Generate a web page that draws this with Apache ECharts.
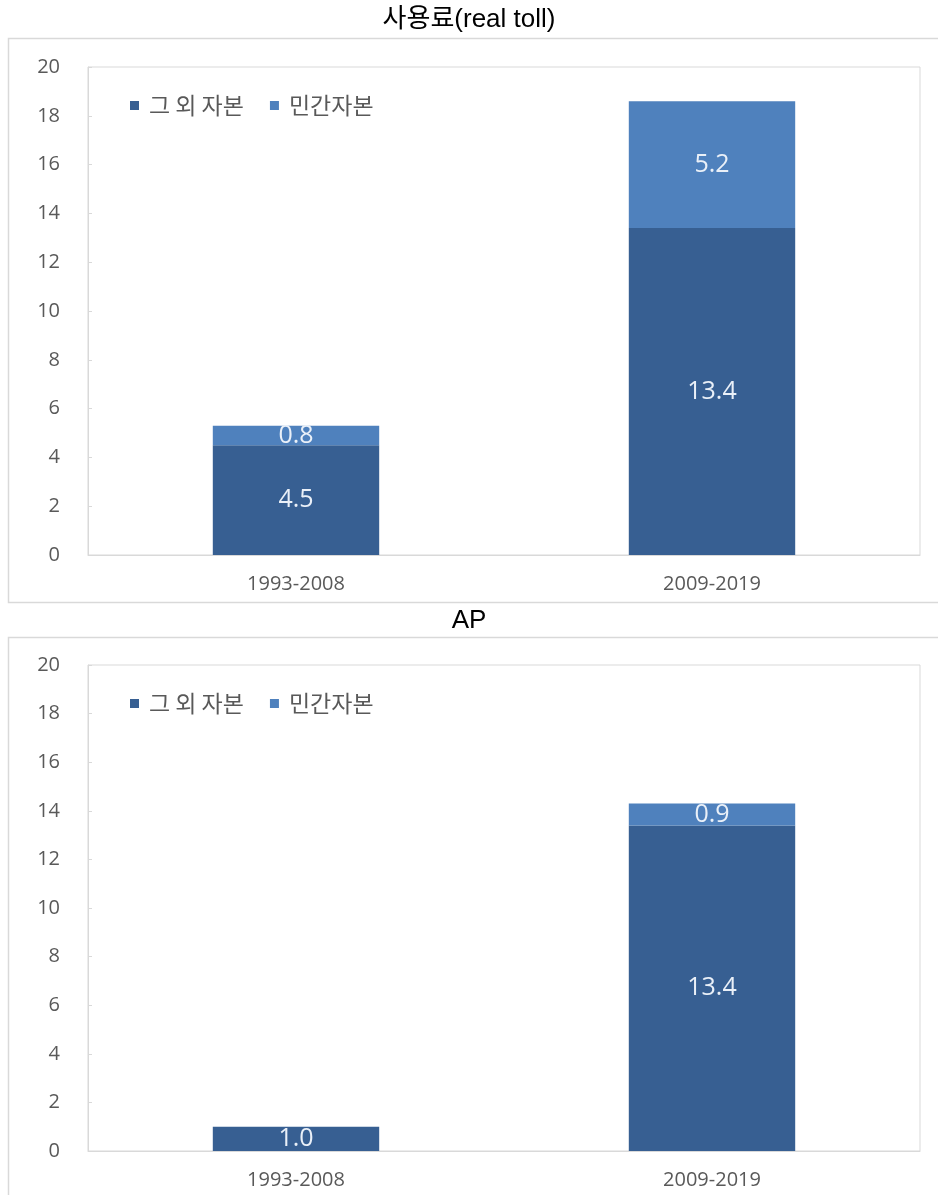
<!DOCTYPE html>
<html>
<head>
<meta charset="utf-8">
<script src="https://cdn.jsdelivr.net/npm/echarts@6/dist/echarts.min.js"></script>
<style>
  html, body { margin: 0; padding: 0; background: #fff; }
  #chart { width: 938px; height: 1195px; }
</style>
</head>
<body>
<div id="chart"></div>
<script>
(function () {
  const categories = ["1993-2008", "2009-2019"];
  const seriesNames = ["그 외 자본", "민간자본"];
  const tollOther = [4.5, 13.4];
  const tollPrivate = [0.8, 5.2];
  const apOther = [1.0, 13.4];
  const apPrivate = [0, 0.9];

  const dark = "#375f92";
  const light = "#4f81bd";
  const grayText = "#595959";
  const lineColor = "#d9d9d9";
  const cjk = "'Noto Sans CJK KR', 'Noto Sans', sans-serif";
  const num = "'Open Sans', 'Noto Sans', sans-serif";

  const myChart = echarts.init(document.getElementById("chart"));

  // 두 개의 플롯 영역 (위: 사용료, 아래: AP)
  const grids = [
    { left: 88, top: 67, width: 832, height: 488 },
    { left: 88, top: 665, width: 832, height: 486 }
  ];

  function xAxis(i) {
    return {
      type: "category",
      gridIndex: i,
      data: categories,
      axisLine: { lineStyle: { color: lineColor } },
      axisTick: { show: false },
      axisLabel: { color: grayText, fontSize: 20, fontFamily: num, margin: 19 }
    };
  }

  function yAxis(i) {
    return {
      type: "value",
      gridIndex: i,
      min: 0,
      max: 20,
      interval: 2,
      axisLine: { show: true, lineStyle: { color: lineColor } },
      axisTick: { show: true, inside: true, length: 4, lineStyle: { color: lineColor } },
      splitLine: { show: false },
      axisLabel: { color: grayText, fontSize: 20, fontFamily: num, margin: 28 }
    };
  }

  function barLabel(v) {
    return v.value > 0 ? v.value.toFixed(1) : "";
  }

  function bar(name, data, color, i) {
    return {
      name,
      type: "bar",
      stack: "s" + i,
      xAxisIndex: i,
      yAxisIndex: i,
      data,
      barWidth: "40%",
      itemStyle: { color },
      label: {
        show: true,
        position: "inside",
        color: "#eaf0f8",
        fontSize: 25,
        fontFamily: num,
        formatter: barLabel
      }
    };
  }

  const legendBase = {
    data: seriesNames,
    icon: "rect",
    itemWidth: 9,
    itemHeight: 9,
    itemGap: 26,
    textStyle: { color: grayText, fontSize: 23, fontFamily: cjk, padding: [0, 0, 0, 5] }
  };

  const titleStyle = { color: "#000", fontSize: 26, fontWeight: "normal", fontFamily: "'Liberation Sans', " + cjk };

  const option = {
    animation: false,
    backgroundColor: "#fff",
    title: [
      { text: "사용료(real toll)", left: "center", top: 2, textStyle: titleStyle },
      { text: "AP", left: "center", top: 603, textStyle: titleStyle }
    ],
    legend: [
      Object.assign({ left: 125, top: 89 }, legendBase),
      Object.assign({ left: 125, top: 687 }, legendBase)
    ],
    graphic: [
      { type: "rect", shape: { x: 8.5, y: 38.5, width: 940, height: 564 }, style: { fill: "none", stroke: lineColor, lineWidth: 1.5 } },
      { type: "rect", shape: { x: 8.5, y: 637.5, width: 940, height: 570 }, style: { fill: "none", stroke: lineColor, lineWidth: 1.5 } }
    ],
    grid: grids.map(g => Object.assign({ show: true, borderColor: lineColor, borderWidth: 1 }, g)),
    xAxis: [xAxis(0), xAxis(1)],
    yAxis: [yAxis(0), yAxis(1)],
    series: [
      bar(seriesNames[0], tollOther, dark, 0),
      bar(seriesNames[1], tollPrivate, light, 0),
      bar(seriesNames[0], apOther, dark, 1),
      bar(seriesNames[1], apPrivate, light, 1)
    ]
  };

  myChart.setOption(option);
})();
</script>
</body>
</html>
